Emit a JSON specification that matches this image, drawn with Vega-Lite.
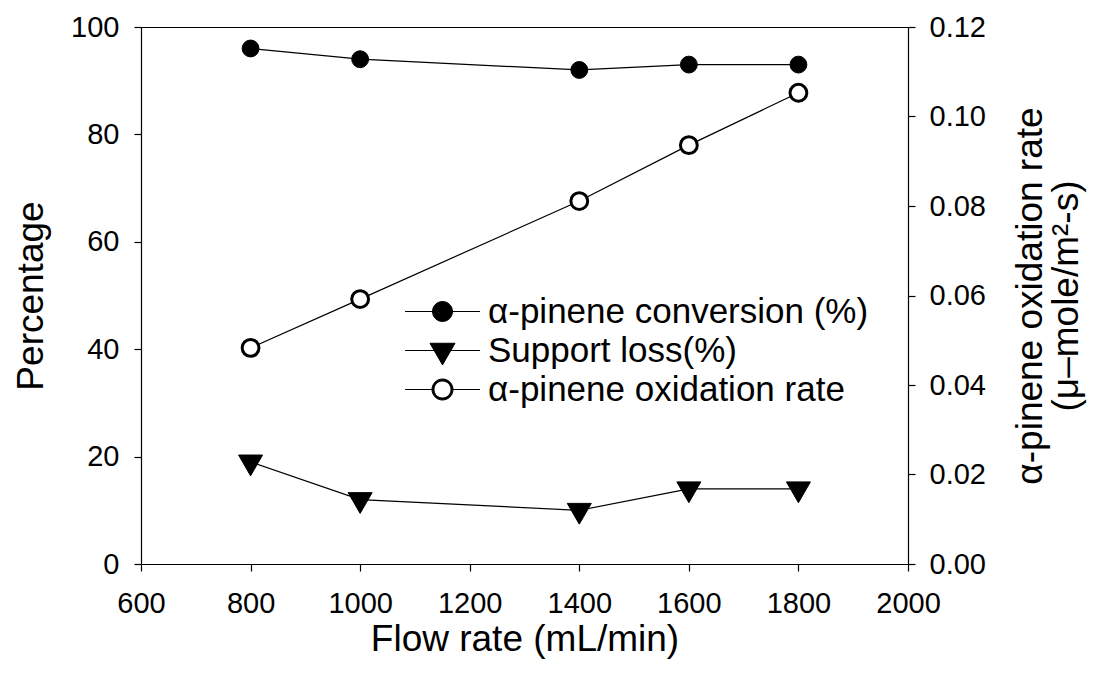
{
  "$schema": "https://vega.github.io/schema/vega-lite/v6.json",
  "width": 767,
  "height": 537,
  "autosize": {"type": "none"},
  "padding": {"left": 141, "top": 27, "right": 197, "bottom": 118},
  "background": "white",
  "config": {
    "font": "Liberation Sans",
    "view": {"stroke": "black", "strokeWidth": 1},
    "axis": {
      "domainColor": "black", "domainWidth": 1.2,
      "tickColor": "black", "tickWidth": 1.2, "tickSize": 7,
      "labelColor": "black", "labelFont": "Liberation Sans", "labelFontSize": 29,
      "titleColor": "black", "titleFont": "Liberation Sans", "titleFontSize": 37, "titleFontWeight": "normal",
      "grid": false
    },
    "legend": {
      "orient": "none", "legendX": 284, "legendY": 267, "padding": 0,
      "symbolSize": 400, "labelFontSize": 35, "labelFont": "Liberation Sans", "labelColor": "black",
      "labelOffset": 28, "labelLimit": 600, "rowPadding": 3
    }
  },
  "data": {"values": [
    {"flow": 800, "series": "α-pinene conversion (%)", "value": 96},
    {"flow": 1000, "series": "α-pinene conversion (%)", "value": 94},
    {"flow": 1400, "series": "α-pinene conversion (%)", "value": 92},
    {"flow": 1600, "series": "α-pinene conversion (%)", "value": 93},
    {"flow": 1800, "series": "α-pinene conversion (%)", "value": 93},
    {"flow": 800, "series": "Support loss(%)", "value": 19},
    {"flow": 1000, "series": "Support loss(%)", "value": 12},
    {"flow": 1400, "series": "Support loss(%)", "value": 10},
    {"flow": 1600, "series": "Support loss(%)", "value": 14},
    {"flow": 1800, "series": "Support loss(%)", "value": 14},
    {"flow": 800, "series": "α-pinene oxidation rate", "value": 0.0483},
    {"flow": 1000, "series": "α-pinene oxidation rate", "value": 0.0592},
    {"flow": 1400, "series": "α-pinene oxidation rate", "value": 0.0811},
    {"flow": 1600, "series": "α-pinene oxidation rate", "value": 0.0936},
    {"flow": 1800, "series": "α-pinene oxidation rate", "value": 0.1053}
  ]},
  "encoding": {
    "x": {
      "field": "flow", "type": "quantitative",
      "scale": {"domain": [600, 2000], "nice": false, "zero": false},
      "axis": {"values": [600, 800, 1000, 1200, 1400, 1600, 1800, 2000], "format": "d", "labelPadding": 18, "title": "Flow rate (mL/min)", "titlePadding": 3, "labelFlush": false}
    }
  },
  "layer": [
    {
      "transform": [{"filter": "datum.series !== 'α-pinene oxidation rate'"}],
      "encoding": {
        "y": {
          "field": "value", "type": "quantitative",
          "scale": {"domain": [0, 100], "nice": false},
          "axis": {"values": [0, 20, 40, 60, 80, 100], "title": "Percentage", "labelPadding": 15, "titlePadding": 20, "labelFlush": false}
        }
      },
      "layer": [
        {"mark": {"type": "line", "color": "black", "strokeWidth": 1.2}, "encoding": {"detail": {"field": "series"}}},
        {
          "transform": [{"filter": "datum.series === 'α-pinene conversion (%)'"}],
          "mark": {"type": "point", "shape": "circle", "filled": true, "stroke": "black", "strokeWidth": 1, "size": 284, "opacity": 1},
          "encoding": {
            "color": {"field": "series", "type": "nominal",
              "scale": {"domain": ["α-pinene conversion (%)", "Support loss(%)", "α-pinene oxidation rate"], "range": ["black", "black", "black"]},
              "legend": {
                "title": null,
                "symbolStrokeColor": "black",
                "symbolStrokeWidth": 1,
                "symbolType": {"expr": "datum.index === 1 ? 'M-3.75,0L3.75,0M-1.25,-0.722L1.25,-0.722L0,1.443Z' : datum.index === 2 ? 'M-3.75,0L-1.05,0M1.05,0L3.75,0M1.05,0C1.05,0.58,0.58,1.05,0,1.05C-0.58,1.05,-1.05,0.58,-1.05,0C-1.05,-0.58,-0.58,-1.05,0,-1.05C0.58,-1.05,1.05,-0.58,1.05,0ZM0.85,0C0.85,-0.4694,0.4694,-0.85,0,-0.85C-0.4694,-0.85,-0.85,-0.4694,-0.85,0C-0.85,0.4694,-0.4694,0.85,0,0.85C0.4694,0.85,0.85,0.4694,0.85,0Z' : 'M-3.75,0L3.75,0M1,0C1,0.5523,0.5523,1,0,1C-0.5523,1,-1,0.5523,-1,0C-1,-0.5523,-0.5523,-1,0,-1C0.5523,-1,1,-0.5523,1,0Z'"}
              }
            }
          }
        },
        {
          "transform": [{"filter": "datum.series === 'Support loss(%)'"}],
          "mark": {"type": "point", "shape": "M-1,-0.577L1,-0.577L0,1.155Z", "filled": true, "fill": "black", "stroke": "black", "strokeWidth": 1, "size": 576, "opacity": 1},
          "encoding": {}
        }
      ]
    },
    {
      "transform": [{"filter": "datum.series === 'α-pinene oxidation rate'"}],
      "encoding": {
        "y": {
          "field": "value", "type": "quantitative",
          "scale": {"domain": [0, 0.12], "nice": false},
          "axis": {"orient": "right", "values": [0, 0.02, 0.04, 0.06, 0.08, 0.1, 0.12], "format": ".2f", "labelPadding": 14, "title": ["α-pinene oxidation rate", "(μ–mole/m²-s)"], "titleAngle": 270, "titlePadding": 28, "titleLineHeight": 36, "labelFlush": false}
        }
      },
      "layer": [
        {"mark": {"type": "line", "color": "black", "strokeWidth": 1.2}, "encoding": {"detail": {"field": "series"}}},
        {
          "mark": {"type": "point", "shape": "circle", "filled": true, "fill": "white", "stroke": "black", "strokeWidth": 3, "size": 284, "opacity": 1},
          "encoding": {}
        }
      ]
    }
  ],
  "resolve": {"scale": {"y": "independent"}}
}
